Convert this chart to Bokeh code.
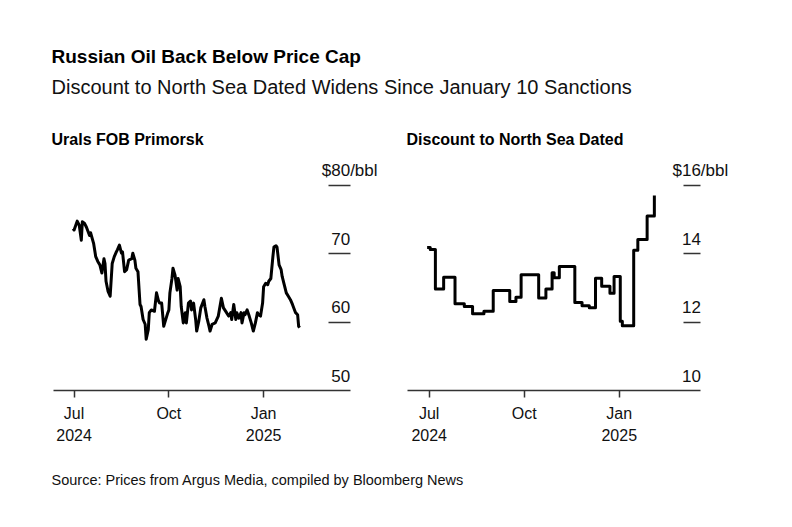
import pandas as pd
from bokeh.plotting import figure
from bokeh.models import Range1d, FixedTicker, Label, ColumnDataSource, LinearAxis
from bokeh.layouts import column, row
from bokeh.embed import file_html
from bokeh.resources import INLINE

TITLE = "Russian Oil Back Below Price Cap"
SUBTITLE = "Discount to North Sea Dated Widens Since January 10 Sanctions"
LEFT_TITLE = "Urals FOB Primorsk"
RIGHT_TITLE = "Discount to North Sea Dated"
SOURCE = "Source: Prices from Argus Media, compiled by Bloomberg News"

# Urals FOB Primorsk, $/bbl
urals_dates = [
    "2024-06-30", "2024-07-01", "2024-07-04", "2024-07-06", "2024-07-08", "2024-07-09",
    "2024-07-11", "2024-07-13", "2024-07-16", "2024-07-17", "2024-07-20", "2024-07-22",
    "2024-07-24", "2024-07-26", "2024-07-28", "2024-07-30", "2024-07-31", "2024-08-01",
    "2024-08-03", "2024-08-05", "2024-08-07", "2024-08-09", "2024-08-11", "2024-08-12",
    "2024-08-14", "2024-08-16", "2024-08-17", "2024-08-19", "2024-08-21", "2024-08-23",
    "2024-08-26", "2024-08-27", "2024-08-29", "2024-08-30", "2024-09-01", "2024-09-03",
    "2024-09-04", "2024-09-06", "2024-09-08", "2024-09-09", "2024-09-11", "2024-09-12",
    "2024-09-14", "2024-09-17", "2024-09-19", "2024-09-21", "2024-09-22", "2024-09-24",
    "2024-09-26", "2024-09-27", "2024-09-30", "2024-10-01", "2024-10-02", "2024-10-04",
    "2024-10-05", "2024-10-07", "2024-10-09", "2024-10-10", "2024-10-12", "2024-10-13",
    "2024-10-15", "2024-10-17", "2024-10-18", "2024-10-20", "2024-10-22", "2024-10-23",
    "2024-10-25", "2024-10-27", "2024-10-28", "2024-10-30", "2024-11-01", "2024-11-04",
    "2024-11-05", "2024-11-07", "2024-11-09", "2024-11-10", "2024-11-12", "2024-11-15",
    "2024-11-18", "2024-11-21", "2024-11-23", "2024-11-26", "2024-11-28", "2024-11-30",
    "2024-12-01", "2024-12-03", "2024-12-05", "2024-12-06", "2024-12-08", "2024-12-10",
    "2024-12-11", "2024-12-13", "2024-12-14", "2024-12-16", "2024-12-18", "2024-12-20",
    "2024-12-22", "2024-12-24", "2024-12-26", "2024-12-27", "2024-12-29", "2024-12-31",
    "2025-01-01", "2025-01-03", "2025-01-05", "2025-01-06", "2025-01-08", "2025-01-10",
    "2025-01-11", "2025-01-13", "2025-01-14", "2025-01-16", "2025-01-18", "2025-01-19",
    "2025-01-21", "2025-01-23", "2025-01-25", "2025-01-27", "2025-01-29", "2025-01-31",
    "2025-02-01", "2025-02-03", "2025-02-04", "2025-02-05",
]
urals_values = [
    73.7, 73.5, 74.8, 74.2, 72.0, 74.7,
    74.5, 73.9, 72.7, 73.1, 71.5, 69.6,
    68.9, 68.4, 67.2, 69.3, 68.6, 66.0,
    64.5, 63.8, 68.6, 69.6, 70.3, 70.6,
    71.3, 70.1, 70.3, 67.4, 67.7, 69.1,
    69.3, 70.1, 69.1, 67.9, 67.4, 62.6,
    62.3, 60.4, 59.7, 57.5, 58.9, 61.4,
    61.8, 61.6, 64.3, 63.1, 62.8, 62.8,
    59.4, 59.9, 61.4, 61.8, 64.3, 66.4,
    67.9, 66.9, 64.7, 66.4, 65.2, 62.3,
    59.9, 61.4, 59.9, 62.8, 63.1, 61.8,
    62.8, 60.4, 58.7, 60.1, 62.1, 63.3,
    62.3, 60.6, 59.4, 58.7, 59.7, 59.9,
    60.9, 63.5, 62.1, 61.4, 60.9, 61.4,
    60.4, 62.6, 60.4, 61.4, 60.6, 61.4,
    59.9, 61.4, 61.1, 61.8, 60.9, 59.9,
    58.7, 59.9, 61.4, 61.1, 60.9, 62.8,
    65.2, 65.7, 65.5, 66.0, 66.4, 69.6,
    71.0, 71.2, 71.0, 68.4, 67.7, 66.7,
    65.5, 64.3, 63.8, 63.3, 62.6, 61.8,
    61.4, 61.1, 59.4, 59.2,
]

# Discount of Urals to North Sea Dated, $/bbl (value changes)
disc_dates = [
    "2024-06-29", "2024-07-02", "2024-07-07", "2024-07-15", "2024-07-26", "2024-08-04",
    "2024-08-12", "2024-08-23", "2024-09-01", "2024-09-17", "2024-09-23", "2024-09-28",
    "2024-10-15", "2024-10-22", "2024-10-28", "2024-10-30", "2024-11-04", "2024-11-19",
    "2024-11-26", "2024-12-03", "2024-12-09", "2024-12-15", "2024-12-23", "2024-12-27",
    "2025-01-02", "2025-01-04", "2025-01-15", "2025-01-19", "2025-01-28", "2025-02-04",
]
disc_values = [
    14.19, 14.13, 12.97, 13.32, 12.54, 12.46,
    12.25, 12.32, 12.93, 12.61, 12.73, 13.39,
    12.71, 12.97, 13.45, 13.30, 13.63, 12.58,
    12.48, 12.42, 13.29, 13.05, 12.85, 13.34,
    12.03, 11.90, 14.11, 14.42, 15.11, 15.71,
]

x_tick_dates = ["2024-07-01", "2024-10-01", "2025-01-01"]
x_tick_labels = ["Jul\n2024", "Oct", "Jan\n2025"]
urals_yticks = [50, 60, 70, 80]
urals_ylabels = ["50", "60", "70", "$80"]
disc_yticks = [10, 12, 14, 16]
disc_ylabels = ["10", "12", "14", "$16"]
unit_suffix = "/bbl"

FONT = "Liberation Sans"
INK = "#111111"
AXIS = "#333333"


def ms(d):
    return pd.Timestamp(d).timestamp() * 1000.0


def panel(dates, values, yticks, ylabels, xstart, axis_end, view_end, y_top,
          width, border_left, dash_len, step=False):
    p = figure(width=width, height=304, x_axis_type="datetime",
               x_range=Range1d(ms(xstart), ms(view_end)),
               y_range=Range1d(yticks[0], y_top),
               y_axis_location=None,
               output_backend="svg", toolbar_location=None,
               min_border_left=border_left, min_border_right=0,
               min_border_top=0, min_border_bottom=65)
    p.outline_line_color = None
    p.grid.visible = False
    p.background_fill_color = "white"
    p.border_fill_color = "white"

    xa = p.xaxis[0]
    xa.bounds = (ms(xstart), ms(axis_end))
    xa.ticker = FixedTicker(ticks=[ms(d) for d in x_tick_dates])
    xa.major_label_overrides = {ms(d): lab for d, lab in zip(x_tick_dates, x_tick_labels)}
    xa.axis_line_color = AXIS
    xa.axis_line_width = 1.5
    xa.major_tick_line_color = AXIS
    xa.major_tick_line_width = 1.5
    xa.major_tick_out = 7
    xa.major_tick_in = 0
    xa.minor_tick_line_color = None
    xa.major_label_standoff = 7
    xa.major_label_text_font = FONT
    xa.major_label_text_font_size = "16px"
    xa.major_label_text_color = INK
    xa.major_label_text_line_height = 1.35

    ya = LinearAxis(ticker=FixedTicker(ticks=yticks[1:]),
                    fixed_location=ms(axis_end),
                    axis_line_color=None,
                    major_tick_line_color=AXIS, major_tick_line_width=1.5,
                    major_tick_in=dash_len, major_tick_out=0,
                    minor_tick_line_color=None,
                    major_label_text_alpha=0, major_label_text_font_size="1px",
                    major_label_standoff=0)
    p.add_layout(ya, "right")

    src = ColumnDataSource(dict(date=pd.to_datetime(dates), value=values))
    if step:
        p.step(x="date", y="value", source=src, mode="after", line_width=3,
               line_color="black", line_join="round")
    else:
        p.line(x="date", y="value", source=src, line_width=3,
               line_color="black", line_join="round")

    xe = ms(axis_end)
    for v, lab in zip(yticks, ylabels):
        p.add_layout(Label(x=xe, y=v, text=lab, text_align="right",
                           text_baseline="alphabetic", y_offset=15,
                           text_font=FONT, text_font_size="17px", text_color=INK))
    p.add_layout(Label(x=xe, y=yticks[-1], text=unit_suffix, text_align="left",
                       text_baseline="alphabetic", y_offset=15,
                       text_font=FONT, text_font_size="17px", text_color=INK))
    return p


def text_fig(height):
    p = figure(width=784, height=height, x_range=Range1d(0, 784),
               y_range=Range1d(height, 0), x_axis_location=None,
               y_axis_location=None, output_backend="svg",
               toolbar_location=None, min_border=0)
    p.outline_line_color = None
    p.grid.visible = False
    return p


top = text_fig(151)
top.add_layout(Label(x=51, y=56, text=TITLE, text_font=FONT, text_font_size="19px",
                     text_font_style="bold", text_color="black", text_baseline="alphabetic"))
top.add_layout(Label(x=51, y=86, text=SUBTITLE, text_font=FONT, text_font_size="20px",
                     text_color=INK, text_baseline="alphabetic"))
top.add_layout(Label(x=51, y=139, text=LEFT_TITLE, text_font=FONT, text_font_size="16px",
                     text_font_style="bold", text_color="black", text_baseline="alphabetic"))
top.add_layout(Label(x=406, y=139, text=RIGHT_TITLE, text_font=FONT, text_font_size="16px",
                     text_font_style="bold", text_color="black", text_baseline="alphabetic"))

left = panel(urals_dates, urals_values, urals_yticks, urals_ylabels,
             "2024-06-11", "2025-03-26", "2025-05-10", 85, 396, 53, 22)
right = panel(disc_dates, disc_values, disc_yticks, disc_ylabels,
              "2024-06-10", "2025-03-21", "2025-06-10", 17, 388, 11, 17, step=True)

bottom = text_fig(50)
bottom.add_layout(Label(x=51, y=24, text=SOURCE, text_font=FONT, text_font_size="14.5px",
                        text_color=INK, text_baseline="alphabetic"))

layout = column(top, row(left, right), bottom)
open("out.html", "w").write(file_html(layout, INLINE))
